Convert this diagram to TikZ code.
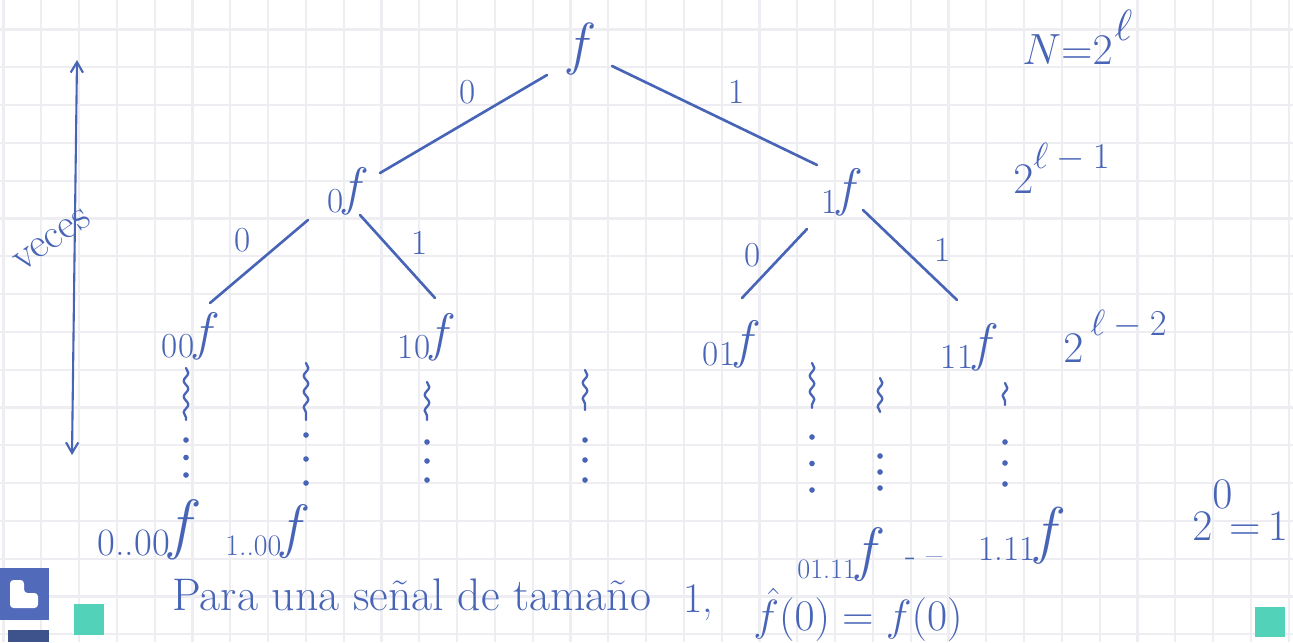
\documentclass[tikz,border=0pt]{standalone}
\usepackage{fontspec}
\usetikzlibrary{arrows.meta,decorations.pathmorphing}

\definecolor{inkc}{RGB}{72,100,182}
\definecolor{gridc}{RGB}{237,237,242}
\definecolor{iconblue}{RGB}{82,106,186}
\definecolor{icondark}{RGB}{62,82,140}
\definecolor{tealc}{RGB}{82,210,184}

% tall handwritten-style f, lifted a little off the baseline
\newcommand{\Fsz}[2]{\raisebox{#2}{\fontsize{#1}{#1}\selectfont\itshape f}}
\newcommand{\Fbig}{\Fsz{30}{4pt}}

\begin{document}
\begin{tikzpicture}[x=0.02cm,y=-0.02cm,
  ink/.style={draw=inkc, line width=1.5pt, line cap=round},
  lbl/.style={text=inkc, inner sep=0pt, font=\fontsize{20}{22}\selectfont},
  tnode/.style={text=inkc, inner sep=0pt, anchor=base, font=\fontsize{20}{22}\selectfont},
  wavy/.style={draw=inkc, line width=1.3pt, line cap=round, decorate,
    decoration={snake, amplitude=1.3pt, segment length=9pt}},
]
\useasboundingbox (0,0) rectangle (1293,642);
\fill[white] (0,0) rectangle (1293,642);

% squared paper
\foreach \k in {0,...,34}
  \draw[gridc, line width=1.3pt] ({3.5+37.8*\k},0) -- ({3.5+37.8*\k},642);
\foreach \k in {-1,...,16}
  \draw[gridc, line width=1.3pt] (0,{29.5+37.8*\k}) -- (1293,{29.5+37.8*\k});

% tree nodes
\node[tnode] (root) at (577,71) {\Fsz{33}{4pt}};
\node[tnode] (n0)  at (343,212) {0\Fbig};
\node[tnode] (n1)  at (837,213) {1\Fbig};
\node[tnode] (n00) at (186,357) {00\Fbig};
\node[tnode] (n10) at (422,358) {10\Fbig};
\node[tnode] (n01) at (727,365) {01\Fbig};
\node[tnode] (n11) at (965,368) {11\Fbig};

% branches
\draw[ink] ([shift={(-30,4)}]root.base) -- ([shift={(37,-39)}]n0.base);
\draw[ink] ([shift={(35,-5)}]root.base) -- ([shift={(-20,-48)}]n1.base);
\draw[ink] ([shift={(-35,8)}]n0.base) -- ([shift={(24,-54)}]n00.base);
\draw[ink] ([shift={(17,3)}]n0.base) -- ([shift={(13,-60)}]n10.base);
\draw[ink] ([shift={(-30,16)}]n1.base) -- ([shift={(15,-67)}]n01.base);
\draw[ink] ([shift={(26,-3)}]n1.base) -- ([shift={(-8,-68)}]n11.base);

% branch labels
\node[lbl] (l1) at (468,92) {0};
\node[lbl] (l2) at (737,92) {1};
\node[lbl] (l3) at (243,240) {0};
\node[lbl] (l4) at (420,243) {1};
\node[lbl] (l5) at (753,255) {0};
\node[lbl] (l6) at (943,250) {1};

% sizes per level
\node[lbl, anchor=base west, font=\fontsize{24}{26}\selectfont] (sN) at (1022,65)
  {$N{=}2$\hspace{1pt}\raisebox{14pt}{$\ell$}};
\node[lbl, anchor=base west, font=\fontsize{24}{26}\selectfont] (s1) at (1013,193)
  {$2$\raisebox{14pt}{\fontsize{20}{22}\selectfont$\ell-1$}};
\node[lbl, anchor=base west, font=\fontsize{24}{26}\selectfont] (s2) at (1063,362)
  {$2$\hspace{4pt}\raisebox{15pt}{\fontsize{20}{22}\selectfont$\ell-2$}};
\node[lbl, anchor=base west, font=\fontsize{23}{25}\selectfont] (s0) at (1192,540)
  {$2$\raisebox{18pt}{$0$}\hspace{-6pt}$\,{=}\,1$};

% "veces" with the double arrow
\coordinate (atop) at (77,60);
\coordinate (abot) at (72,455);
\draw[ink, line width=1.2pt, {Straight Barb[length=6pt,width=7pt]}-{Straight Barb[length=6pt,width=7pt]}] (abot) -- (atop);
\node[lbl, rotate=35, font=\fontsize{24}{26}\selectfont] (veces) at (52,240) {veces};

% descending columns: wavy stroke, then dots
\foreach \x/\a/\b/\c/\d in {186/368/420/440/475, 306/363/420/435/483,
    427/382/420/442/480, 585/370/410/440/480, 812/363/408/437/490,
    880/378/412/456/488, 1005/383/405/442/484} {
  \draw[wavy] (\x,\a) -- (\x,\b);
  \foreach \t in {0,0.5,1}
    \fill[inkc] (\x,{\c+(\d-\c)*\t}) circle[radius=1.6pt];
}

% leaves
\node[tnode, anchor=base west, font=\fontsize{22}{24}\selectfont] (b1) at (97,555) {0..00\Fsz{38}{5pt}};
\node[tnode, anchor=base west, font=\fontsize{17}{19}\selectfont] (b2) at (225,555) {1..00\Fsz{34}{5pt}};
\node[tnode, anchor=base west, font=\fontsize{16}{18}\selectfont] (b3) at (797,578) {01.11\Fsz{34}{5pt}};
\node[lbl, anchor=base west] (b4) at (905,566) {- --};
\node[tnode, anchor=base west, font=\fontsize{20}{22}\selectfont] (b5) at (978,560) {1.11\Fsz{36}{5pt}};

% closing sentence
\node[lbl, anchor=base west, font=\fontsize{26}{28}\selectfont] (t1) at (172,610) {Para una señal de tamaño};
\node[lbl, anchor=base west, font=\fontsize{24}{26}\selectfont] (t2) at (683,612) {1,};
\node[lbl, anchor=base west, font=\fontsize{24}{26}\selectfont] (t3) at (753,630) {$\hat f(0) = f(0)$};

% corner icons
\fill[iconblue] (0,568) rectangle (49,620);
\fill[white, rounded corners=2pt] (10,580) -- (24,580) -- (24,593) -- (38,593) -- (38,608) -- (10,608) -- cycle;
\fill[icondark] (8,630) rectangle (49,642);
\fill[tealc] (74,604) rectangle (104,635);
\fill[tealc] (1255,607) rectangle (1285,637);
\end{tikzpicture}
\end{document}
